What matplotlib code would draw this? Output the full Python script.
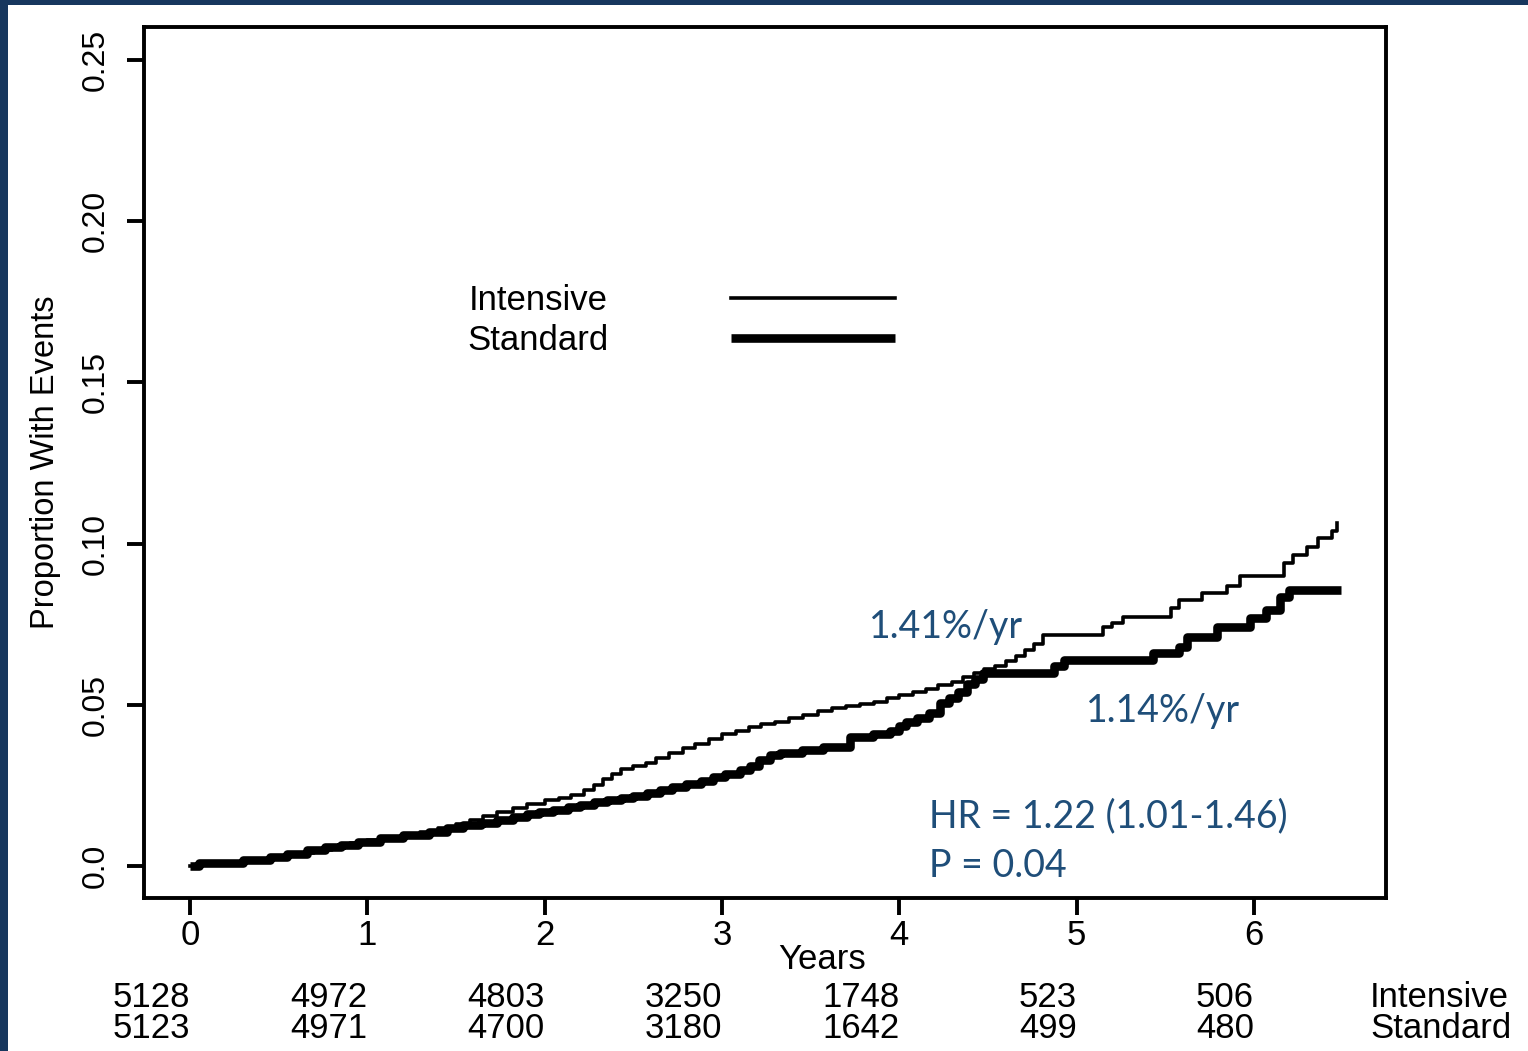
import matplotlib
matplotlib.use("Agg")
import matplotlib.pyplot as plt
from matplotlib.patches import Rectangle
from matplotlib.lines import Line2D
import matplotlib.transforms as mtransforms

# ---------------- data ----------------
int_t = [0, 0.05, 0.15, 0.3, 0.45, 0.55, 0.62, 0.7, 0.8, 0.9, 1.0, 1.1, 1.2,
         1.3, 1.4, 1.5, 1.58, 1.65, 1.73, 1.82, 1.9, 2.0, 2.08, 2.15, 2.22,
         2.28, 2.33, 2.38, 2.43, 2.5, 2.57, 2.63, 2.7, 2.78, 2.85, 2.93, 3.0,
         3.08, 3.15, 3.22, 3.3, 3.38, 3.46, 3.54, 3.62, 3.7, 3.78, 3.86, 3.93,
         4.0, 4.08, 4.15, 4.22, 4.3, 4.36, 4.42, 4.48, 4.54, 4.6, 4.66, 4.71,
         4.76, 4.81, 5.15, 5.2, 5.26, 5.53, 5.58, 5.71, 5.85, 5.92, 6.17, 6.22,
         6.3, 6.36, 6.44, 6.47]
int_v = [0, 0.0008, 0.001, 0.0018, 0.0022, 0.003, 0.004, 0.005, 0.006, 0.0072,
         0.0082, 0.009, 0.0098, 0.0106, 0.0118, 0.013, 0.0142, 0.0155, 0.0167,
         0.018, 0.0192, 0.0205, 0.021, 0.022, 0.0235, 0.025, 0.027, 0.0285,
         0.030, 0.031, 0.032, 0.0335, 0.035, 0.0365, 0.038, 0.0395, 0.041,
         0.042, 0.043, 0.044, 0.0448, 0.046, 0.047, 0.048, 0.049, 0.0497,
         0.0503, 0.051, 0.052, 0.053, 0.054, 0.055, 0.056, 0.057, 0.0585,
         0.060, 0.061, 0.062, 0.0635, 0.065, 0.067, 0.069, 0.0717, 0.074,
         0.0755, 0.0772, 0.080, 0.0825, 0.0847, 0.087, 0.090, 0.094, 0.0965,
         0.099, 0.1017, 0.104, 0.1064]

std_t = [0, 0.05, 0.3, 0.45, 0.55, 0.66, 0.76, 0.85, 0.95, 1.07, 1.2, 1.35,
         1.45, 1.54, 1.64, 1.73, 1.82, 1.9, 1.97, 2.05, 2.13, 2.2, 2.28, 2.35,
         2.43, 2.5, 2.58, 2.65, 2.72, 2.8, 2.88, 2.95, 3.02, 3.1, 3.16, 3.21,
         3.27, 3.33, 3.45, 3.57, 3.72, 3.85, 3.95, 4.0, 4.04, 4.1, 4.17, 4.23,
         4.28, 4.33, 4.38, 4.43, 4.47, 4.87, 4.93, 5.43, 5.58, 5.62, 5.79, 5.98,
         6.07, 6.15, 6.20, 6.49]
std_v = [0, 0.001, 0.0019, 0.0028, 0.0036, 0.005, 0.0058, 0.0065, 0.0076,
         0.0087, 0.0096, 0.0106, 0.0117, 0.0127, 0.0133, 0.0143, 0.0152, 0.016,
         0.0168, 0.0175, 0.0183, 0.019, 0.0198, 0.0205, 0.021, 0.0218, 0.0226,
         0.0236, 0.0245, 0.0255, 0.0265, 0.0275, 0.0285, 0.0298, 0.031, 0.033,
         0.0345, 0.0352, 0.036, 0.037, 0.040, 0.041, 0.042, 0.0435, 0.0447,
         0.046, 0.0475, 0.0505, 0.052, 0.054, 0.0565, 0.058, 0.060, 0.062,
         0.064, 0.066, 0.068, 0.071, 0.074, 0.077, 0.0794, 0.0834, 0.0856,
         0.0856]

years = [0, 1, 2, 3, 4, 5, 6]
y_ticks = [0.0, 0.05, 0.10, 0.15, 0.20, 0.25]
y_tick_labels = ["0.0", "0.05", "0.10", "0.15", "0.20", "0.25"]
risk_intensive = [5128, 4972, 4803, 3250, 1748, 523, 506]
risk_standard = [5123, 4971, 4700, 3180, 1642, 499, 480]

# ---------------- style ----------------
FONT = ["Liberation Sans", "DejaVu Sans"]
BLUE_FONT = ["Lato", "DejaVu Sans"]
BLUE = "#1F4E79"
NAVY = "#17375E"
FS = 25
FSY = 23

plt.rcParams["font.family"] = FONT

fig = plt.figure(figsize=(15.28, 10.51), dpi=100)
fig.patch.set_facecolor("white")

# navy frame strips (left and top)
fig.patches.append(Rectangle((0, 0), 8 / 1528, 1, transform=fig.transFigure,
                             facecolor=NAVY, edgecolor="none", zorder=0))
fig.patches.append(Rectangle((0, 1 - 5 / 1051), 1, 5 / 1051, transform=fig.transFigure,
                             facecolor=NAVY, edgecolor="none", zorder=0))

ax = fig.add_axes([144 / 1528, 1 - 898 / 1051, (1386 - 144) / 1528, (898 - 27) / 1051])

ax.plot(int_t, int_v, drawstyle="steps-post", color="black", lw=2.6,
        label="Intensive")
ax.plot(std_t, std_v, drawstyle="steps-post", color="black", lw=6.2,
        label="Standard", solid_capstyle="butt")

ax.set_xlim(-0.259, 6.745)
ax.set_ylim(-0.0099, 0.2602)

ax.set_xticks(years)
ax.set_xticklabels([str(y) for y in years], fontsize=FS)
ax.set_yticks(y_ticks)
ax.set_yticklabels(y_tick_labels, fontsize=FSY, rotation=90, va="center")

for s in ax.spines.values():
    s.set_linewidth(2.8)
ax.tick_params(axis="both", length=12, width=2.8, color="black")
ax.tick_params(axis="x", pad=3)
ax.tick_params(axis="y", pad=12)

ax.set_ylabel("Proportion With Events", fontsize=23.5, labelpad=14)

tr = mtransforms.blended_transform_factory(ax.transData, ax.transAxes)

# x label
ax.text(3.565, -0.0705, "Years", transform=tr, ha="center", va="center",
        fontsize=FS, clip_on=False)

# numbers at risk
for x, a, b in zip(years, risk_intensive, risk_standard):
    ax.text(x, -0.1145, str(a), transform=tr, ha="right", va="center",
            fontsize=FS, clip_on=False)
    ax.text(x, -0.150, str(b), transform=tr, ha="right", va="center",
            fontsize=FS, clip_on=False)
ax.text(6.655, -0.1145, "Intensive", transform=tr, ha="left", va="center",
        fontsize=FS, clip_on=False)
ax.text(6.655, -0.150, "Standard", transform=tr, ha="left", va="center",
        fontsize=FS, clip_on=False)

# legend
handles = [Line2D([], [], color="black", lw=2.6),
           Line2D([], [], color="black", lw=6.2, solid_capstyle="butt")]
leg = ax.legend(handles, ["Intensive", "Standard"], loc="center left",
                bbox_to_anchor=(0.26, 0.6625), frameon=False, markerfirst=False,
                fontsize=FS, handlelength=4.7, handletextpad=3.55,
                labelspacing=0.2, borderpad=0, borderaxespad=0)

# blue annotations
BFS = 27
ax.text(3.830, 0.0707, "1.41%/yr", color=BLUE, fontsize=BFS, family=BLUE_FONT,
        ha="left", va="baseline")
ax.text(5.054, 0.0447, "1.14%/yr", color=BLUE, fontsize=BFS, family=BLUE_FONT,
        ha="left", va="baseline")
ax.text(4.168, 0.0121, "HR = 1.22 (1.01-1.46)", color=BLUE, fontsize=BFS,
        family=BLUE_FONT, ha="left", va="baseline")
ax.text(4.168, -0.0034, "P = 0.04", color=BLUE, fontsize=BFS, family=BLUE_FONT,
        ha="left", va="baseline")

fig.savefig("out.png", dpi=100, facecolor="white")
